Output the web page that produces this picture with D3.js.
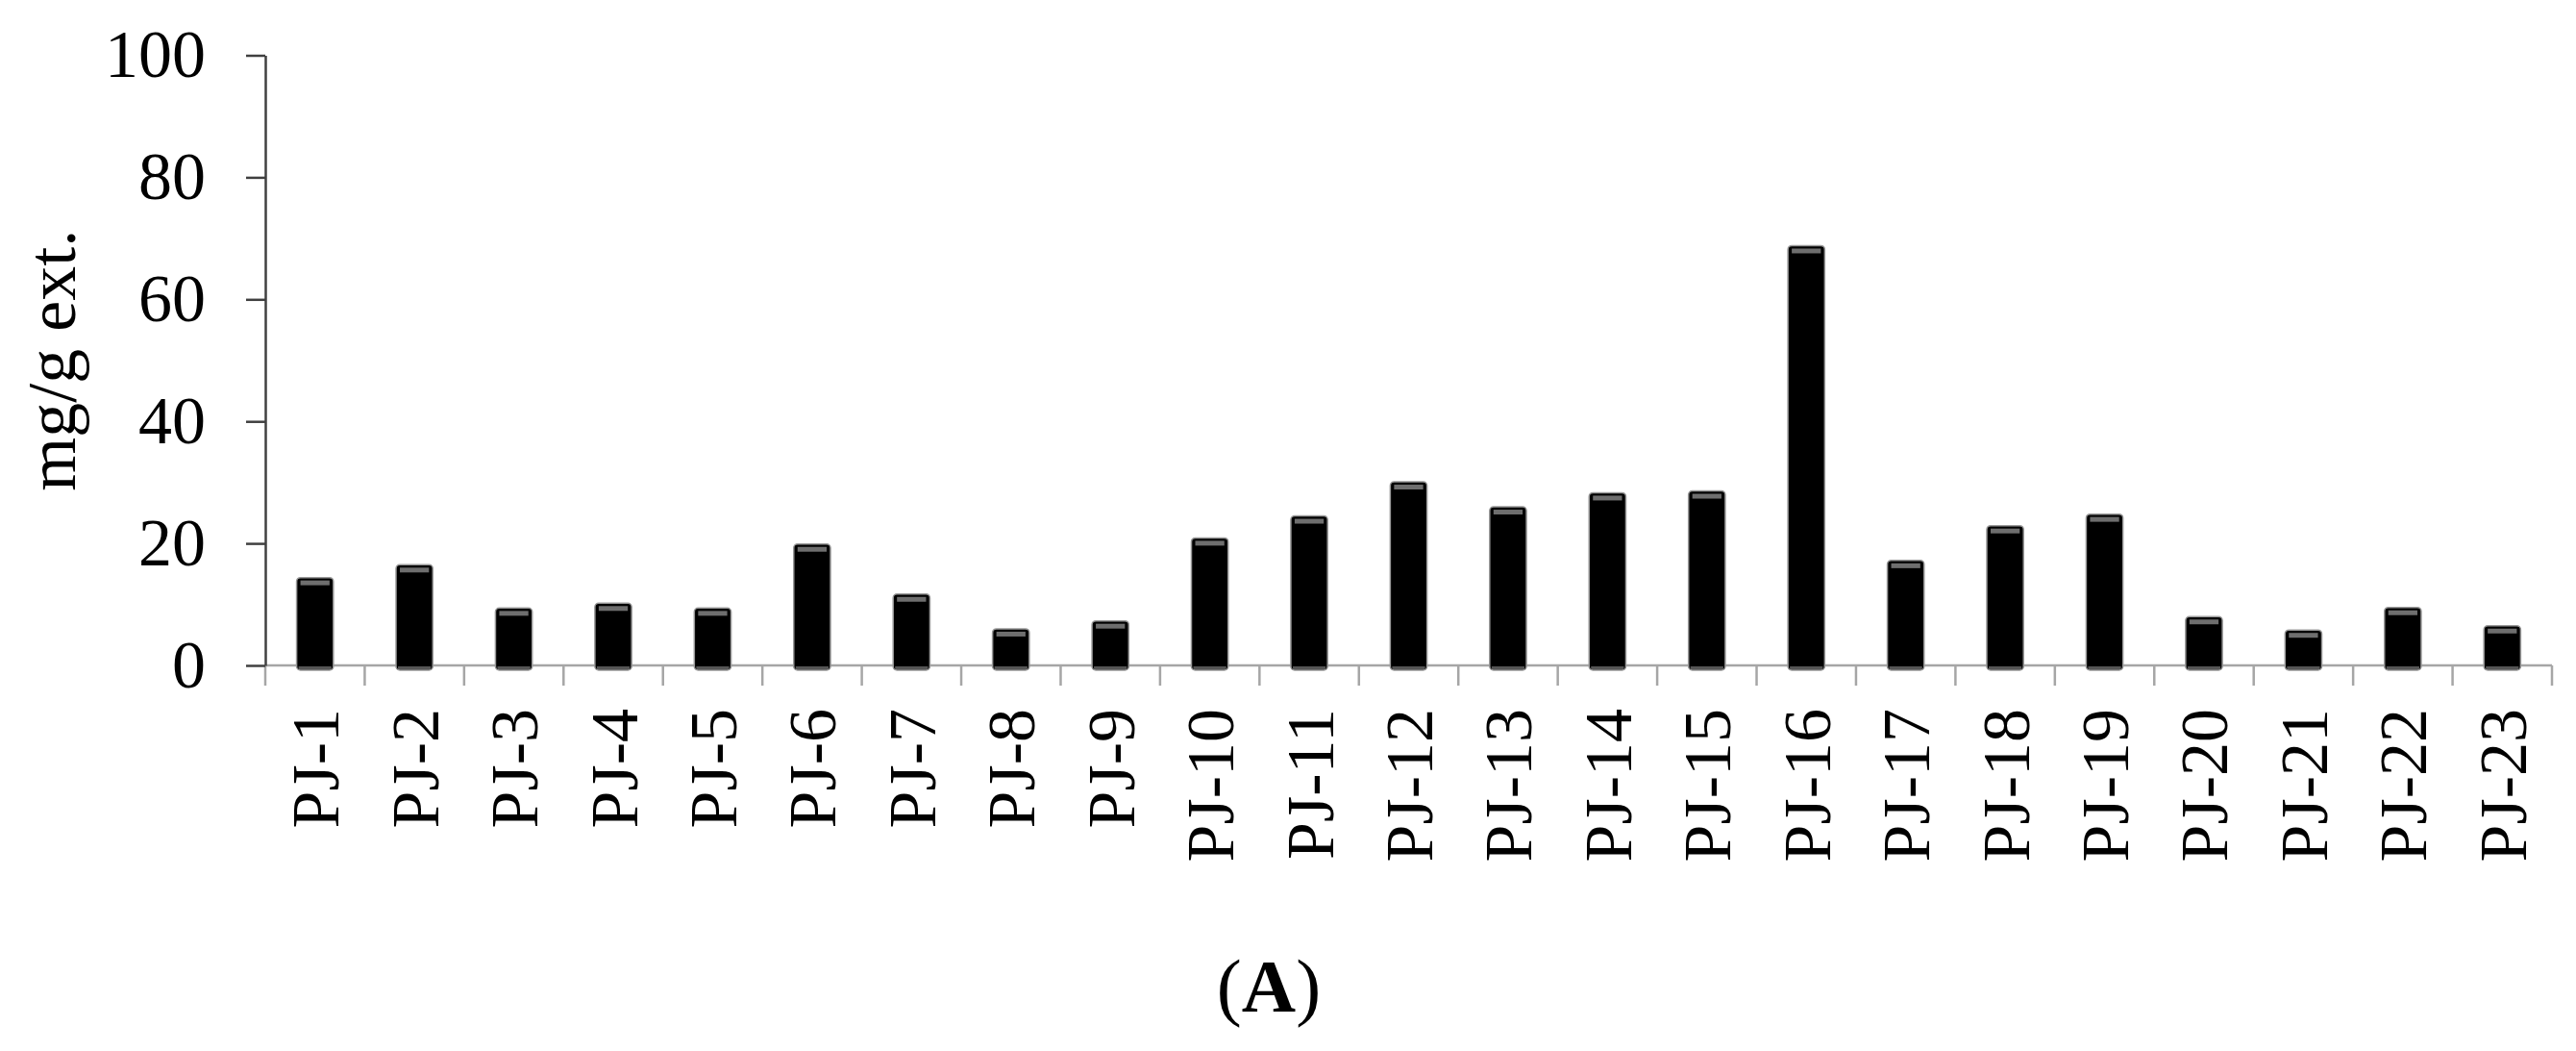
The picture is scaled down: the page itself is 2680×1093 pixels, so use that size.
<!DOCTYPE html>
<html>
<head>
<meta charset="utf-8">
<script src="https://cdn.jsdelivr.net/npm/d3@7"></script>
<style>
  html, body { margin: 0; padding: 0; background: #fff; }
  svg { display: block; }
  text { font-family: "Liberation Serif", "Times New Roman", serif; fill: #000; }
</style>
</head>
<body>
<svg id="chart" width="2680" height="1093"></svg>
<script>
const categories = ["PJ-1","PJ-2","PJ-3","PJ-4","PJ-5","PJ-6","PJ-7","PJ-8","PJ-9","PJ-10","PJ-11","PJ-12","PJ-13","PJ-14","PJ-15","PJ-16","PJ-17","PJ-18","PJ-19","PJ-20","PJ-21","PJ-22","PJ-23"];
const values = [14.4, 16.5, 9.4, 10.2, 9.4, 19.9, 11.7, 6.0, 7.3, 20.9, 24.5, 30.1, 26.0, 28.3, 28.6, 68.8, 17.2, 22.9, 24.8, 8.0, 5.8, 9.5, 6.5];
const yTicks = [0, 20, 40, 60, 80, 100];
const yLabel = "mg/g ext.";
const panelLabel = "A";

const svg = d3.select("#chart");
const plotLeft = 276, plotRight = 2655, plotTop = 57.5, plotBottom = 692;

const x = d3.scaleBand().domain(categories).range([plotLeft, plotRight]).paddingInner(0.63).paddingOuter(0.315);
const y = d3.scaleLinear().domain([0, 100]).range([plotBottom, plotTop]);

// x axis (gray) with tick marks at band boundaries
const xg = svg.append("g");
xg.append("line").attr("x1", plotLeft).attr("x2", plotRight).attr("y1", plotBottom).attr("y2", plotBottom)
  .attr("stroke", "#a6a6a6").attr("stroke-width", 2.5);
const step = x.step();
const bounds = d3.range(categories.length + 1).map(i => plotLeft + i * step);
xg.selectAll("line.tk").data(bounds).join("line").attr("class", "tk")
  .attr("x1", d => d).attr("x2", d => d).attr("y1", plotBottom).attr("y2", plotBottom + 21)
  .attr("stroke", "#a6a6a6").attr("stroke-width", 2.5);

// bars
const bars = svg.append("g");
const bw = x.bandwidth();
bars.selectAll("rect.bar").data(values).join("rect").attr("class", "bar")
  .attr("x", (d, i) => x(categories[i]))
  .attr("y", d => y(d))
  .attr("width", bw)
  .attr("height", d => y(0) - y(d) + 5)
  .attr("rx", 4)
  .attr("fill", "#000")
  .attr("stroke", "#9a9a9a").attr("stroke-width", 1.5);
bars.selectAll("rect.cap").data(values).join("rect").attr("class", "cap")
  .attr("x", (d, i) => x(categories[i]) + 4)
  .attr("y", d => y(d) + 3)
  .attr("width", bw - 8)
  .attr("height", 5)
  .attr("fill", "#6e6e6e");
bars.selectAll("rect.base").data(values).join("rect").attr("class", "base")
  .attr("x", (d, i) => x(categories[i]) + 2)
  .attr("y", plotBottom + 1)
  .attr("width", bw - 4)
  .attr("height", 3)
  .attr("fill", "#555");

// x labels
svg.append("g").selectAll("text").data(categories).join("text")
  .attr("transform", d => `translate(${x(d) + bw / 2},${plotBottom + 45}) rotate(-90)`)
  .attr("text-anchor", "end")
  .attr("dy", "0.35em")
  .attr("font-size", 70)
  .text(d => d);

// y axis
const yAxis = d3.axisLeft(y).tickValues(yTicks).tickSize(20).tickPadding(42).tickSizeOuter(0);
const yg = svg.append("g").attr("transform", `translate(${plotLeft},0)`).call(yAxis);
yg.select(".domain").attr("stroke", "#404040").attr("stroke-width", 2.5);
yg.selectAll(".tick line").attr("stroke", "#404040").attr("stroke-width", 2.5);
yg.selectAll(".tick text").attr("font-size", 70).attr("font-family", "Liberation Serif").attr("fill", "#000");

// y label
svg.append("text")
  .attr("transform", `translate(78,${(plotTop + plotBottom) / 2}) rotate(-90)`)
  .attr("text-anchor", "middle")
  .attr("font-size", 72)
  .text(yLabel);

// panel label (A)
const pl = svg.append("text").attr("x", 1320).attr("y", 1052).attr("text-anchor", "middle").attr("font-size", 78);
pl.append("tspan").text("(");
pl.append("tspan").attr("font-weight", "bold").text(panelLabel);
pl.append("tspan").text(")");
</script>
</body>
</html>
